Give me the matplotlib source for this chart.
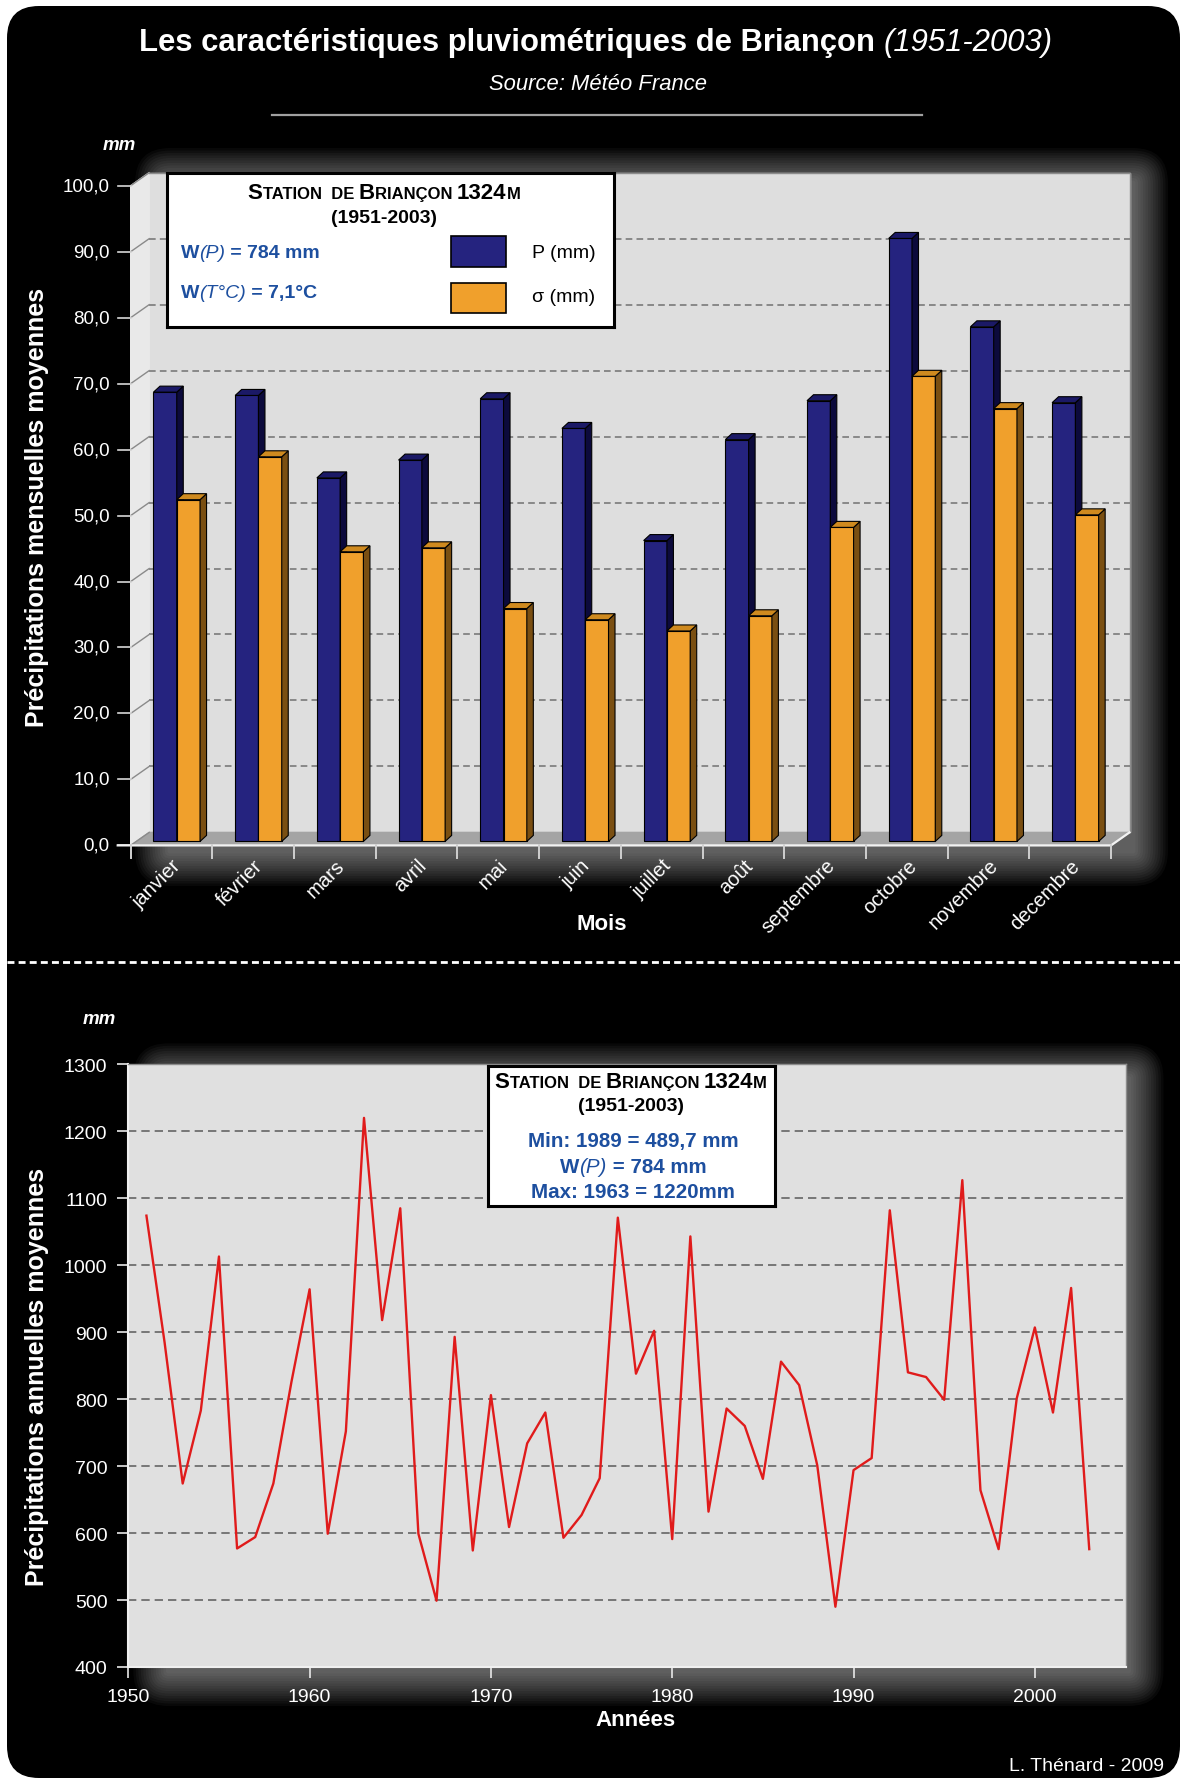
import matplotlib
matplotlib.use("Agg")
import matplotlib.pyplot as plt
from matplotlib.patches import FancyBboxPatch
from matplotlib.lines import Line2D
from matplotlib.transforms import Affine2D
from matplotlib.font_manager import FontProperties

plt.rcParams['font.family'] = ['Liberation Sans', 'DejaVu Sans']
plt.rcParams['lines.scale_dashes'] = False

# données mensuelles (mm)
mois = ['janvier', 'février', 'mars', 'avril', 'mai', 'juin', 'juillet',
        'août', 'septembre', 'octobre', 'novembre', 'decembre']
p_mm = [68.1, 67.6, 55.1, 57.8, 67.1, 62.6, 45.6, 60.9, 66.8, 91.4, 78.0, 66.5]
sigma_mm = [51.8, 58.3, 43.9, 44.5, 35.3, 33.6, 31.9, 34.2, 47.6, 70.5, 65.6, 49.5]
y_ticks_mois = [0, 10, 20, 30, 40, 50, 60, 70, 80, 90, 100]

# données annuelles (mm)
annees = list(range(1951, 2004))
p_annuel = [1074, 885, 674, 783, 1013, 577, 594, 674, 826, 964,
            599, 752, 1220, 918, 1085, 599, 499, 893, 574, 806,
            609, 734, 780, 593, 627, 682, 1071, 838, 902, 591,
            1043, 632, 786, 760, 681, 856, 821, 701, 490, 694,
            712, 1082, 840, 833, 799, 1127, 664, 576, 801, 907,
            780, 966, 576]
y_ticks_an = [400, 500, 600, 700, 800, 900, 1000, 1100, 1200, 1300]
x_ticks_an = [1950, 1960, 1970, 1980, 1990, 2000]

W, H, DPI = 1182, 1781, 100
BLEU, BLEU_S, BLEU_T = '#25237f', '#0c0a3c', '#1b1966'
ORANGE, ORANGE_S, ORANGE_T = '#f0a02c', '#7a4f12', '#cf8a1f'
BLEU_TXT = '#1d4f9f'
FAM = ['Liberation Sans', 'DejaVu Sans']

fig = plt.figure(figsize=(W / DPI, H / DPI), dpi=DPI, facecolor='white')
# coordonnées en pixels, origine en haut à gauche
TP = Affine2D().scale(1 / W, -1 / H).translate(0, 1) + fig.transFigure


def fx(x):
    return x / W


def fy(y):
    return 1 - y / H


def fp(size, weight='normal', style='normal'):
    return FontProperties(family=FAM, size=size, weight=weight, style=style)


def text_w(s, prop):
    r = fig.canvas.get_renderer()
    w1 = r.get_text_width_height_descent(s + '|', prop, ismath=False)[0]
    w2 = r.get_text_width_height_descent('|', prop, ismath=False)[0]
    return w1 - w2


def runs(ax, x, y, parts, ha='left', transform=None):
    total = sum(text_w(s, p) for s, p, c in parts)
    start = x - total / 2 if ha == 'center' else x
    for s, p, c in parts:
        kw = {} if transform is None else {'transform': transform}
        ax.text(start, y, s, fontproperties=p, color=c, ha='left', va='baseline', **kw)
        start += text_w(s, p)


def glow(x0, y0, x1, y1, n=14, step=2.5, alpha=0.034):
    for k in range(1, n + 1):
        d = k * step
        fig.add_artist(FancyBboxPatch((x0 - d, y0 - d), x1 - x0 + 2 * d, y1 - y0 + 2 * d,
                                      boxstyle=f'round,pad=0,rounding_size={d}',
                                      transform=TP, fc='white', ec='none',
                                      alpha=alpha, zorder=-5))


def station(ax, cx, y):
    big, small = fp(16, 'bold'), fp(12, 'bold')
    runs(ax, cx, y, [('S', big, 'black'), ('TATION  DE ', small, 'black'),
                     ('B', big, 'black'), ('RIANÇON ', small, 'black'),
                     ('1324', big, 'black'), ('M', small, 'black')], ha='center')


# fond noir arrondi
fig.add_artist(FancyBboxPatch((7, 7), 1173, 1772, boxstyle='round,pad=0,rounding_size=32',
                              transform=TP, fc='black', ec='none', zorder=-10))

# titre
runs(fig, 596, 51, [('Les caractéristiques pluviométriques de Briançon ', fp(22.3, 'bold'), 'white'),
                    ('(1951-2003)', fp(22.3, 'normal', 'italic'), 'white')],
     ha='center', transform=TP)
fig.text(598, 84, 'Source: Météo France', transform=TP, color='white',
         fontproperties=fp(15.8, 'normal', 'italic'), ha='center', va='center')
fig.add_artist(Line2D([272, 922], [116, 116], transform=TP, color='#a0a0a0', lw=1.6))

# ---------- graphique mensuel (pseudo 3D) ----------
L1, R1, B1, T1 = 130.7, 1111.0, 846.4, 186.7
glow(170, 184, 1133, 852)
ax1 = fig.add_axes([fx(L1), fy(B1), (R1 - L1) / W, (B1 - T1) / H])
ax1.set_xlim(-0.5, 11.5)
ax1.set_ylim(0, 100)
ax1.axis('off')
ux = (R1 - L1) / 12
uy = (B1 - T1) / 100
bx, by = 18.5 / ux, 13 / uy      # profondeur du fond
px, py = 4 / ux, 4 / uy          # plan des barres
dx, dy = 6.5 / ux, 6 / uy        # épaisseur des barres
bw = 0.285

ax1.fill([-0.5 + bx, 11.5 + bx, 11.5 + bx, -0.5 + bx], [by, by, 100 + by, 100 + by],
         color='#dedede', zorder=0.3, clip_on=False)
ax1.plot([-0.5 + bx, 11.5 + bx, 11.5 + bx], [100 + by, 100 + by, by], color='#8c8c8c',
         lw=1.0, zorder=0.31, clip_on=False)
ax1.fill([-0.5, -0.5 + bx, -0.5 + bx, -0.5], [0, by, 100 + by, 100],
         color='#e9e9e9', zorder=0.3, clip_on=False)
ax1.fill([-0.5, 11.5, 11.5 + bx, -0.5 + bx], [0, 0, by, by],
         color='#a4a4a4', zorder=0.35, clip_on=False)
for v in y_ticks_mois:
    if 0 < v < 100:
        ax1.plot([-0.5 + bx, 11.5 + bx], [v + by, v + by], color='#7a7a7a', lw=1.2,
                 ls=(0, (4.8, 3)), zorder=0.4, clip_on=False)
    ax1.plot([-0.5, -0.5 + bx], [v, v + by], color='#8a8a8a', lw=1.0, zorder=0.4, clip_on=False)
    ax1.plot([-0.5 - 13 / ux, -0.5], [v, v], color='#d8d8d8', lw=1.2, zorder=0.4, clip_on=False)
    ax1.text(-0.5 - 21 / ux, v, f'{v:.1f}'.replace('.', ','), ha='right', va='center',
             color='white', fontsize=13.5)
ax1.plot([-0.5 - 13 / ux, 11.5, 11.5 + bx], [0, 0, by], color='#f2f2f2', lw=1.6,
         zorder=0.5, clip_on=False)
for k in range(13):
    ax1.plot([k - 0.5, k - 0.5], [0, -13 / uy], color='#d0d0d0', lw=1.4, clip_on=False)

for i in range(12):
    for val, left, cf, cs, ct in [(p_mm[i], i - 0.27, BLEU, BLEU_S, BLEU_T),
                                  (sigma_mm[i], i + 0.015, ORANGE, ORANGE_S, ORANGE_T)]:
        x0 = left + px
        ax1.bar(x0, val, width=bw, bottom=py, align='edge', color=cf,
                edgecolor='black', lw=0.8, clip_on=False)
        ax1.fill([x0 + bw, x0 + bw + dx, x0 + bw + dx, x0 + bw],
                 [py, py + dy, py + val + dy, py + val], fc=cs, ec='black', lw=0.8, clip_on=False)
        ax1.fill([x0, x0 + bw, x0 + bw + dx, x0 + dx],
                 [py + val, py + val, py + val + dy, py + val + dy], fc=ct, ec='black',
                 lw=0.8, clip_on=False)
    ax1.annotate(mois[i], (i, 0), xytext=(0, -10), textcoords='offset pixels', rotation=45,
                 rotation_mode='anchor', ha='right', va='top', color='white', fontsize=14.5)

# légende du graphique mensuel
leg1 = fig.add_axes([fx(167), fy(328), 447 / W, 154 / H])
leg1.set_xlim(0, 447)
leg1.set_ylim(154, 0)
leg1.set_xticks([])
leg1.set_yticks([])
leg1.set_facecolor('white')
for s in leg1.spines.values():
    s.set_linewidth(2.2)
    s.set_color('black')
station(leg1, 217, 25)
leg1.text(217, 44, '(1951-2003)', ha='center', va='center', fontproperties=fp(14, 'bold'))
runs(leg1, 14, 84, [('W', fp(14, 'bold'), BLEU_TXT), ('(P)', fp(14, 'normal', 'italic'), BLEU_TXT),
                    (' = 784 mm', fp(14, 'bold'), BLEU_TXT)])
runs(leg1, 14, 124, [('W', fp(14, 'bold'), BLEU_TXT), ('(T°C)', fp(14, 'normal', 'italic'), BLEU_TXT),
                     (' = 7,1°C', fp(14, 'bold'), BLEU_TXT)])
leg1.fill([284, 339, 339, 284], [63, 63, 94, 94], fc=BLEU, ec='black', lw=1.2)
leg1.fill([284, 339, 339, 284], [110, 110, 140, 140], fc=ORANGE, ec='black', lw=1.2)
leg1.text(365, 79, 'P (mm)', va='center', fontsize=14)
leg1.text(365, 124, 'σ (mm)', va='center', fontsize=14)

fig.text(119, 146, 'mm', transform=TP, color='white', ha='center', va='center',
         fontproperties=fp(13.5, 'bold', 'italic'))
fig.text(37.5, 507, 'Précipitations mensuelles moyennes', transform=TP, color='white',
         rotation=90, ha='center', va='center', fontproperties=fp(18, 'bold'))
fig.text(602, 925, 'Mois', transform=TP, color='white', ha='center', va='center',
         fontproperties=fp(16, 'bold'))

# séparation
fig.add_artist(Line2D([7, 1180], [963, 963], transform=TP, color='white', lw=2,
                      ls=(0, (5, 3))))

# ---------- graphique annuel ----------
L2, R2, B2, T2 = 128.3, 1125.5, 1668.0, 1065.3
glow(L2 + 40, T2 + 14, R2 + 3, B2 + 4)
ax2 = fig.add_axes([fx(L2), fy(B2), (R2 - L2) / W, (B2 - T2) / H])
ax2.set_facecolor('#e0e0e0')
ax2.set_xlim(1950, 2005)
ax2.set_ylim(400, 1300)
for v in y_ticks_an[1:-1]:
    ax2.axhline(v, color='#6e6e6e', lw=1.3, ls=(0, (6, 3.6)), zorder=1)
ax2.plot(annees, p_annuel, color='#e01b1b', lw=1.7, zorder=3)
ax2.set_yticks(y_ticks_an)
ax2.set_xticks(x_ticks_an)
ax2.tick_params(colors='#e8e8e8', labelcolor='white', length=8, width=1.2, labelsize=14, pad=7)
for side in ['top', 'right']:
    ax2.spines[side].set_color('#8c8c8c')
    ax2.spines[side].set_linewidth(1.0)
for side in ['left', 'bottom']:
    ax2.spines[side].set_color('#f0f0f0')
    ax2.spines[side].set_linewidth(1.5)

leg2 = fig.add_axes([fx(488), fy(1207.3), 286.6 / W, 140.8 / H])
leg2.set_xlim(0, 286.6)
leg2.set_ylim(140.8, 0)
leg2.set_xticks([])
leg2.set_yticks([])
leg2.set_facecolor('white')
for s in leg2.spines.values():
    s.set_linewidth(2.2)
    s.set_color('black')
station(leg2, 143, 22)
leg2.text(143, 40.5, '(1951-2003)', ha='center', va='center', fontproperties=fp(14, 'bold'))
leg2.text(145, 75.5, 'Min: 1989 = 489,7 mm', ha='center', va='center', color=BLEU_TXT,
          fontproperties=fp(14.8, 'bold'))
runs(leg2, 145, 107, [('W', fp(14.8, 'bold'), BLEU_TXT), ('(P)', fp(14.8, 'normal', 'italic'), BLEU_TXT),
                      (' = 784 mm', fp(14.8, 'bold'), BLEU_TXT)], ha='center')
leg2.text(145, 126.5, 'Max: 1963 = 1220mm', ha='center', va='center', color=BLEU_TXT,
          fontproperties=fp(14.8, 'bold'))

fig.text(99, 1020, 'mm', transform=TP, color='white', ha='center', va='center',
         fontproperties=fp(13.5, 'bold', 'italic'))
fig.text(37.5, 1377, 'Précipitations annuelles moyennes', transform=TP, color='white',
         rotation=90, ha='center', va='center', fontproperties=fp(18, 'bold'))
fig.text(636, 1721, 'Années', transform=TP, color='white', ha='center', va='center',
         fontproperties=fp(16, 'bold'))
fig.text(1164, 1767, 'L. Thénard - 2009', transform=TP, color='white', ha='right',
         va='center', fontsize=14)

fig.savefig('out.png', dpi=DPI, facecolor='white')
